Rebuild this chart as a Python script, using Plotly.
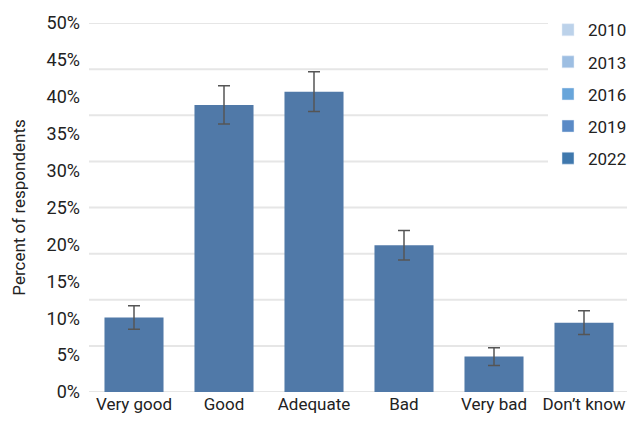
import plotly.graph_objects as go

categories = ["Very good", "Good", "Adequate", "Bad", "Very bad", "Don\u2019t know"]
values_2022 = [10.1, 38.9, 40.7, 19.9, 4.8, 9.4]
errors_2022 = [1.6, 2.6, 2.7, 2.0, 1.2, 1.6]

legend_years = ["2010", "2013", "2016", "2019", "2022"]
legend_colors = ["#bcd2ea", "#9dbee2", "#68a5da", "#5a8ac6", "#3f78ad"]

y_ticks = list(range(0, 51, 5))
y_ticktext = [f"{v}%" for v in y_ticks]
grid_levels = [i * 6.25 for i in range(9)]

FONT = "Roboto, sans-serif"

fig = go.Figure()

fig.add_trace(go.Bar(
    x=categories, y=values_2022, name="2022 data", showlegend=False,
    marker=dict(color="#5079a8", line=dict(width=0)),
    error_y=dict(type="data", array=errors_2022, visible=True,
                 color="#555555", thickness=1.5, width=6),
))

for i, (yr, col) in enumerate(zip(legend_years, legend_colors)):
    fig.add_trace(go.Bar(
        x=[None], y=[None], name=yr, marker=dict(color=col),
        legendgroup=f"g{i}", showlegend=True,
    ))

shapes = []
for lv in grid_levels:
    shapes.append(dict(type="line", xref="paper", yref="y", x0=0, x1=1,
                       y0=lv, y1=lv, line=dict(color="#e6e6e6", width=2),
                       layer="below"))

fig.update_layout(
    width=635, height=421,
    margin=dict(l=81, r=14, t=15, b=37, autoexpand=False),
    paper_bgcolor="white", plot_bgcolor="white",
    barmode="overlay", bargap=0.344,
    font=dict(family=FONT, size=18, color="#222222"),
    shapes=shapes,
    xaxis=dict(showgrid=False, zeroline=False, showline=False, automargin=False,
               tickangle=0, tickfont=dict(size=17, color="#222222"), ticks=""),
    yaxis=dict(range=[0, 50], tickvals=y_ticks, ticktext=y_ticktext, automargin=False,
               showgrid=False, zeroline=False, showline=False,
               tickfont=dict(size=18, color="#222222"), ticklabelstandoff=8,
               title=dict(text="Percent of respondents", font=dict(size=17, color="#222222"),
                          standoff=16)),
    legend=dict(x=0.850, y=0.990, xref="paper", yref="container",
                xanchor="left", yanchor="top",
                bgcolor="white", borderwidth=0, tracegroupgap=7,
                font=dict(size=17, color="#222222")),
)

fig.write_html("out.html")
